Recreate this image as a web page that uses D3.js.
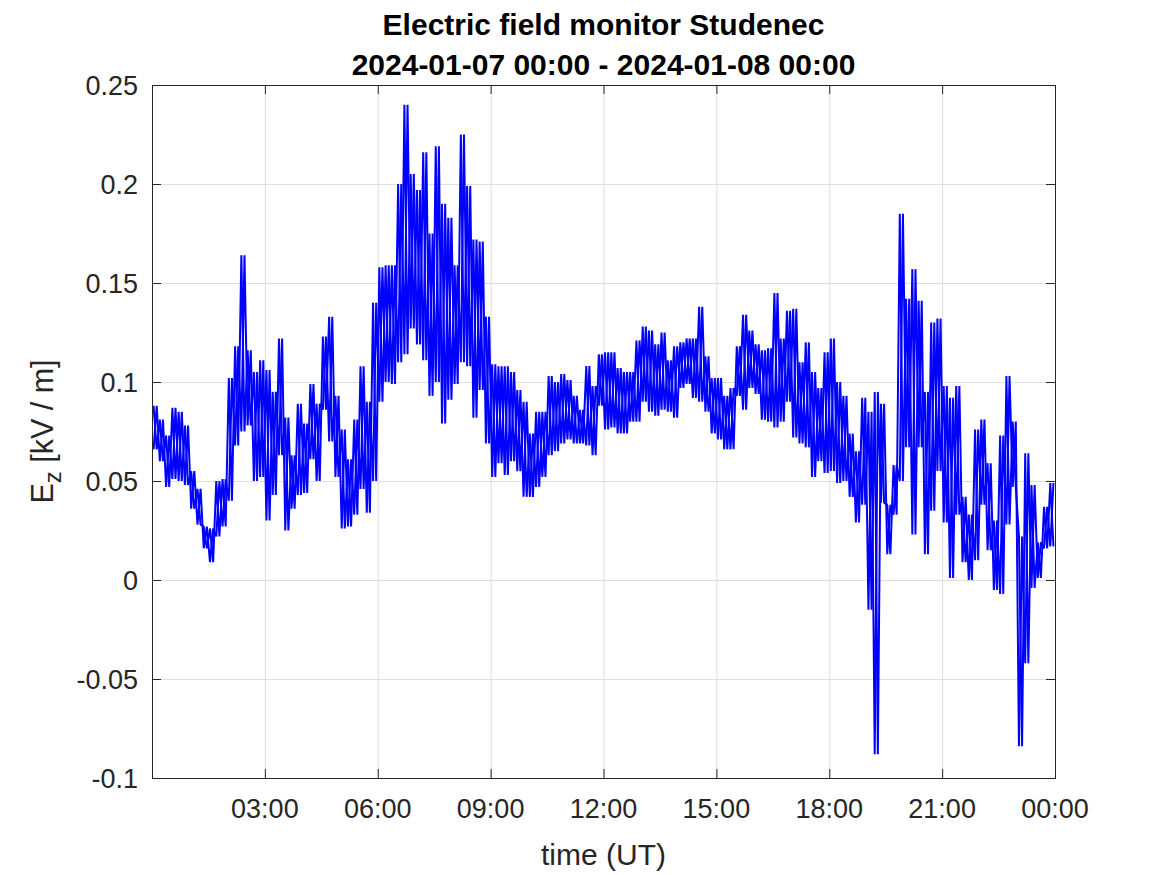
<!DOCTYPE html>
<html>
<head>
<meta charset="utf-8">
<script src="https://cdn.jsdelivr.net/npm/d3@7"></script>
<style>
  body { margin: 0; background: #fff; }
  svg { display: block; }
  text { font-family: "Liberation Sans", Arial, Helvetica, sans-serif; }
</style>
</head>
<body>
<svg id="chart" width="1167" height="875"></svg>
<script>
// ---------------- data ----------------
const titleLines = ["Electric field monitor Studenec", "2024-01-07 00:00 - 2024-01-08 00:00"];
const xLabel = "time (UT)";
const yTicks = [-0.1, -0.05, 0, 0.05, 0.1, 0.15, 0.2, 0.25];
const yTickLabels = ["-0.1", "-0.05", "0", "0.05", "0.1", "0.15", "0.2", "0.25"];
const xTickHours = [3, 6, 9, 12, 15, 18, 21, 24];
const xTickLabels = ["03:00", "06:00", "09:00", "12:00", "15:00", "18:00", "21:00", "00:00"];
const binMinutes = 10;
// upper and lower envelope of Ez [kV/m] in each 10-minute bin
const binHigh = [
  0.088, 0.081, 0.073, 0.087, 0.085, 0.078, 0.055, 0.046, 0.027, 0.026,
  0.050, 0.051, 0.102, 0.118, 0.164, 0.116, 0.105, 0.111, 0.106, 0.095,
  0.122, 0.082, 0.063, 0.089, 0.079, 0.099, 0.089, 0.123, 0.133, 0.093,
  0.076, 0.061, 0.081, 0.108, 0.090, 0.140, 0.158, 0.159, 0.159, 0.200,
  0.240, 0.205, 0.197, 0.216, 0.175, 0.219, 0.190, 0.183, 0.159, 0.225,
  0.199, 0.172, 0.171, 0.133, 0.109, 0.108, 0.108, 0.105, 0.096, 0.090,
  0.074, 0.085, 0.085, 0.103, 0.100, 0.104, 0.101, 0.093, 0.086, 0.108,
  0.098, 0.114, 0.115, 0.115, 0.107, 0.105, 0.105, 0.121, 0.128, 0.126,
  0.119, 0.125, 0.111, 0.118, 0.120, 0.122, 0.122, 0.138, 0.113, 0.102,
  0.102, 0.093, 0.097, 0.118, 0.134, 0.126, 0.119, 0.116, 0.117, 0.145,
  0.122, 0.136, 0.137, 0.110, 0.120, 0.105, 0.097, 0.115, 0.122, 0.100,
  0.093, 0.074, 0.065, 0.092, 0.085, 0.095, 0.089, 0.038, 0.058, 0.185,
  0.142, 0.157, 0.141, 0.095, 0.130, 0.132, 0.098, 0.092, 0.098, 0.042,
  0.033, 0.076, 0.081, 0.059, 0.030, 0.073, 0.103, 0.080, 0.022, 0.064,
  0.048, 0.019, 0.037, 0.049
];
const binLow = [
  0.066, 0.060, 0.047, 0.051, 0.050, 0.048, 0.036, 0.028, 0.016, 0.009,
  0.022, 0.027, 0.040, 0.068, 0.075, 0.078, 0.050, 0.052, 0.030, 0.043,
  0.063, 0.025, 0.036, 0.043, 0.044, 0.061, 0.050, 0.086, 0.070, 0.052,
  0.026, 0.027, 0.033, 0.046, 0.034, 0.050, 0.090, 0.100, 0.099, 0.110,
  0.114, 0.127, 0.119, 0.111, 0.093, 0.100, 0.079, 0.091, 0.099, 0.110,
  0.108, 0.082, 0.096, 0.069, 0.052, 0.059, 0.053, 0.060, 0.055, 0.042,
  0.042, 0.047, 0.052, 0.063, 0.065, 0.069, 0.071, 0.069, 0.069, 0.068,
  0.063, 0.088, 0.076, 0.077, 0.074, 0.074, 0.080, 0.080, 0.090, 0.085,
  0.083, 0.086, 0.085, 0.082, 0.097, 0.099, 0.092, 0.090, 0.085, 0.074,
  0.071, 0.066, 0.066, 0.093, 0.086, 0.097, 0.094, 0.081, 0.080, 0.077,
  0.080, 0.090, 0.072, 0.069, 0.067, 0.052, 0.060, 0.054, 0.055, 0.049,
  0.050, 0.042, 0.029, 0.038, -0.015, -0.088, 0.039, 0.013, 0.033, 0.050,
  0.067, 0.023, 0.067, 0.013, 0.035, 0.055, 0.029, 0.001, 0.033, 0.009,
  0.000, 0.010, 0.038, 0.015, -0.005, -0.007, 0.028, 0.047, -0.084, -0.042,
  -0.004, 0.001, 0.016, 0.017
];

// ---------------- layout ----------------
const W = 1167, H = 875;
const M = { left: 152, right: 1055, top: 85, bottom: 778 };
const axisColor = "#262626";
const gridColor = "#dfdfdf";
const tickLen = 9;

const svg = d3.select("#chart");
const x = d3.scaleLinear().domain([0, 24 * 60]).range([M.left, M.right]);
const y = d3.scaleLinear().domain([-0.1, 0.25]).range([M.bottom, M.top]);

svg.append("rect").attr("width", W).attr("height", H).attr("fill", "#fff");

// grid
const grid = svg.append("g");
grid.selectAll("line.gx").data(xTickHours).join("line")
  .attr("x1", d => x(d * 60) + 0.5).attr("x2", d => x(d * 60) + 0.5)
  .attr("y1", M.top).attr("y2", M.bottom)
  .attr("stroke", gridColor).attr("stroke-width", 1);
grid.selectAll("line.gy").data(yTicks).join("line")
  .attr("x1", M.left).attr("x2", M.right)
  .attr("y1", d => Math.round(y(d)) + 0.5).attr("y2", d => Math.round(y(d)) + 0.5)
  .attr("stroke", gridColor).attr("stroke-width", 1);

// data: the trace swings between the upper and lower envelope of each bin;
// two interleaved passes render the dense min/max band of the raw signal
const passA = [], passB = [];
binHigh.forEach((h, i) => {
  const t0 = i * binMinutes;
  passA.push([t0 + binMinutes * 0.25, h], [t0 + binMinutes * 0.75, binLow[i]]);
  passB.push([t0 + binMinutes * 0.25, binLow[i]], [t0 + binMinutes * 0.75, h]);
});
svg.append("defs").append("clipPath").attr("id", "clip")
  .append("rect").attr("x", M.left).attr("y", M.top)
  .attr("width", M.right - M.left).attr("height", M.bottom - M.top);
const lineGen = d3.line().x(d => x(d[0])).y(d => y(d[1]));
svg.append("g").attr("clip-path", "url(#clip)")
  .selectAll("path").data([passA, passB]).join("path")
  .attr("fill", "none")
  .attr("stroke", "#0000ff")
  .attr("stroke-width", 2)
  .attr("stroke-linejoin", "bevel")
  .attr("d", lineGen);

// axes box
svg.append("rect")
  .attr("x", M.left + 0.5).attr("y", M.top + 0.5)
  .attr("width", M.right - M.left).attr("height", M.bottom - M.top)
  .attr("fill", "none").attr("stroke", axisColor).attr("stroke-width", 1);

// ticks (inward, all four sides)
const ticks = svg.append("g").attr("stroke", axisColor).attr("stroke-width", 1);
xTickHours.forEach(h => {
  const xx = x(h * 60) + 0.5;
  ticks.append("line").attr("x1", xx).attr("x2", xx).attr("y1", M.bottom).attr("y2", M.bottom - tickLen);
  ticks.append("line").attr("x1", xx).attr("x2", xx).attr("y1", M.top).attr("y2", M.top + tickLen);
});
yTicks.forEach(v => {
  const yy = Math.round(y(v)) + 0.5;
  ticks.append("line").attr("x1", M.left).attr("x2", M.left + tickLen).attr("y1", yy).attr("y2", yy);
  ticks.append("line").attr("x1", M.right).attr("x2", M.right - tickLen).attr("y1", yy).attr("y2", yy);
});

// tick labels
svg.append("g").selectAll("text").data(yTicks).join("text")
  .attr("x", M.left - 14).attr("y", d => y(d))
  .attr("dy", "0.36em")
  .attr("text-anchor", "end")
  .attr("font-size", 27).attr("fill", axisColor)
  .text((d, i) => yTickLabels[i]);
svg.append("g").selectAll("text").data(xTickHours).join("text")
  .attr("x", d => x(d * 60)).attr("y", M.bottom + 40)
  .attr("text-anchor", "middle")
  .attr("font-size", 27).attr("fill", axisColor)
  .text((d, i) => xTickLabels[i]);

// axis labels
svg.append("text")
  .attr("x", (M.left + M.right) / 2).attr("y", 865)
  .attr("text-anchor", "middle").attr("font-size", 30).attr("fill", axisColor)
  .text(xLabel);
const yl = svg.append("text")
  .attr("transform", `translate(53, ${(M.top + M.bottom) / 2}) rotate(-90)`)
  .attr("text-anchor", "middle").attr("font-size", 30.5).attr("fill", axisColor);
yl.append("tspan").text("E");
yl.append("tspan").attr("font-size", 24).attr("dy", 8).text("z");
yl.append("tspan").attr("dy", -8).text("\u00a0[kV / m]");

// title
svg.append("g").selectAll("text").data(titleLines).join("text")
  .attr("x", (M.left + M.right) / 2).attr("y", (d, i) => 35 + i * 40)
  .attr("text-anchor", "middle").attr("font-size", 30).attr("font-weight", "bold")
  .attr("fill", "#000")
  .text(d => d);
</script>
</body>
</html>
